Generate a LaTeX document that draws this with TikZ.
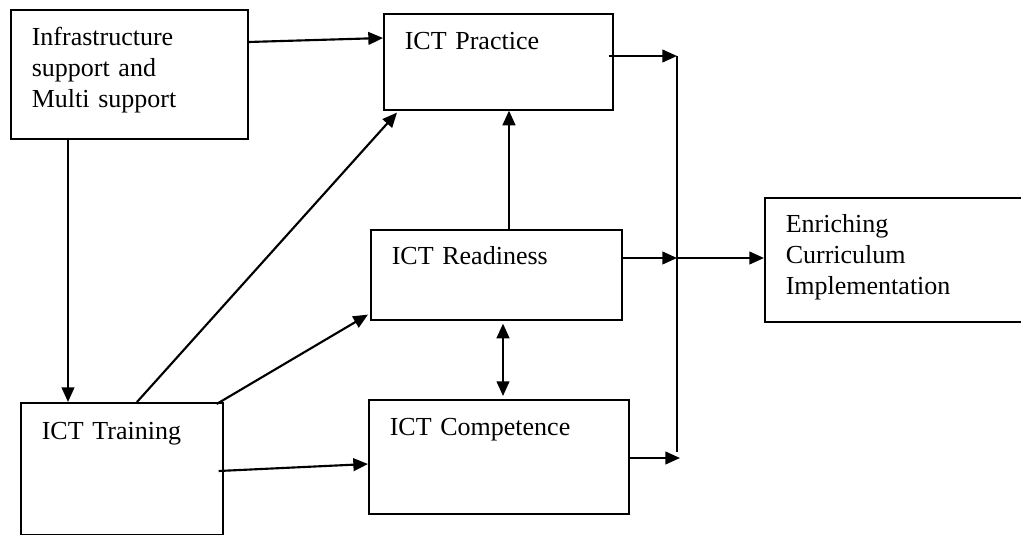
\documentclass[tikz,border=0pt]{standalone}
\usepackage{fontspec}
\setmainfont{Liberation Serif}
\usepackage{tikz}
\usetikzlibrary{arrows.meta, calc}

\begin{document}
\begin{tikzpicture}[
            x=0.75pt, y=-0.75pt,
            every node/.style={draw, line width=1.2pt, anchor=north west, inner xsep=15.75pt,
                inner ysep=0pt, align=left, font=\fontsize{19.5}{23}\selectfont},
            link/.style={line width=1.6pt, -{Triangle[length=11pt, width=9.5pt]}},
        ]
        \useasboundingbox (0,0) rectangle (1021,535);
        \node[text width=146.25pt, text height=27pt, text depth=69.75pt] (infra) at (10,9)
            {Infrastructure\\support and\\Multi support};
        \node[text width=140.25pt, text height=27pt, text depth=45pt] (practice) at (383,13) {ICT Practice};
        \node[text width=156.75pt, text height=26.25pt, text depth=41.25pt] (ready) at (370,229) {ICT Readiness};
        \node[text width=163.5pt, text height=27pt, text depth=58.5pt] (compet) at (368,399) {ICT Competence};
        \node[text width=120pt, text height=27.75pt, text depth=71.25pt] (train) at (20,402) {ICT Training};
        \node[text width=162pt, text height=26.25pt, text depth=66.75pt] (enrich) at (764,197)
            {Enriching\\Curriculum\\Implementation};
        % the collecting bar
        \coordinate (bartop) at (677,56);
        \coordinate (join) at (677,258);
        \coordinate (barbot) at (677,452);
        \coordinate (cend) at (680,458);
        \draw[line width=1.2pt] (bartop) -- (barbot);
        \draw[link] ($(infra.north east)+(0,33)$) -- ($(practice.north west)+(0,25)$);
        \draw[link] ($(infra.south west)+(58,0)$) -- ($(train.north west)+(48,0)$);
        \draw[link] ($(train.north west)+(117,0)$) -- ($(practice.south west)+(14,2)$);
        \draw[link] ($(train.north east)+(-7,2)$) -- ($(ready.south west)+(-2,-6)$);
        \draw[link] ($(train.north east)+(-5,69)$) -- ($(compet.north west)+(0,65)$);
        \draw[link] ($(ready.north west)+(139,0)$) -- ($(practice.south west)+(126,0)$);
        \draw[link, {Triangle[length=11pt, width=9.5pt]}-{Triangle[length=11pt, width=9.5pt]}]
            ($(ready.south west)+(133,3)$) -- ($(compet.north west)+(135,-3)$);
        \draw[link] ($(practice.north east)+(-5,43)$) -- (bartop);
        \draw[link] ($(ready.north east)+(0,29)$) -- (join);
        \draw[link] (join) -- ($(enrich.north west)+(0,61)$);
        \draw[link] ($(compet.north east)+(0,59)$) -- (cend);
        \end{tikzpicture}
\end{document}
